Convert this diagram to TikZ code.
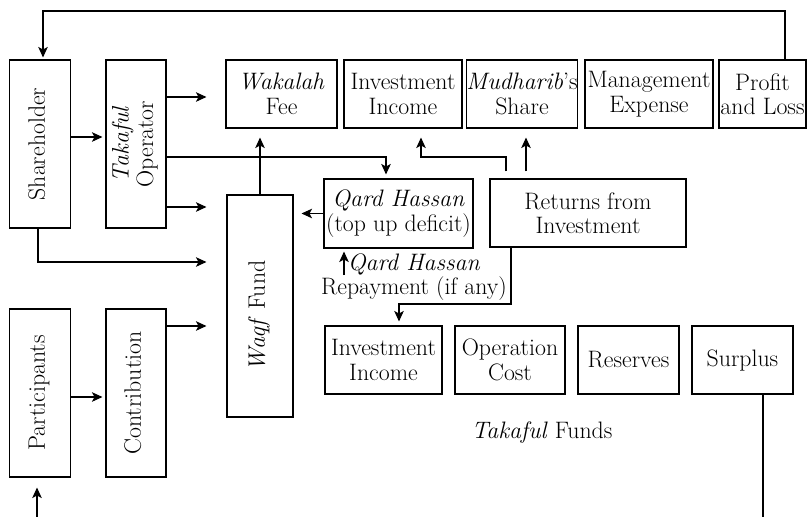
\documentclass[tikz,border=0pt]{standalone}
\usepackage{graphicx}
\usetikzlibrary{arrows.meta,calc}
\begin{document}
\begin{tikzpicture}[x=1pt,y=-1pt,
  lw/.style={line width=1.05pt},
  box/.style={draw, lw, inner sep=0pt, align=center, font=\fontsize{23.8}{24.5}\selectfont},
  txt/.style={inner sep=0pt, align=center, font=\fontsize{23.8}{24.5}\selectfont},
  arr/.style={lw, -{Stealth[length=10.5pt,width=9.5pt,inset=2.5pt]}},
  ln/.style={lw}]
\useasboundingbox (0,0) rectangle (807,517);
\newcommand\vtext[1]{\rotatebox{90}{\renewcommand\arraystretch{1}\begin{tabular}{@{}c@{}}#1\end{tabular}}}
% left column
\node[box, minimum width=60.5pt, minimum height=168pt] (sh) at (40,144) {\vtext{Shareholder}};
\node[box, minimum width=60pt, minimum height=168pt] (op) at (136,144) {\vtext{\textit{Takaful}\\Operator}};
\node[box, minimum width=60.5pt, minimum height=168pt] (part) at (40,393) {\vtext{Participants}};
\node[box, minimum width=60pt, minimum height=168pt] (con) at (136,393) {\vtext{Contribution}};
\node[box, minimum width=66pt, minimum height=222pt] (waqf) at (260,306) {\vtext{\textit{Waqf} Fund\hspace*{20pt}}};
% top row
\node[box, minimum width=111pt, minimum height=68pt] (wak) at (281.5,94) {\textit{Wakalah}\\Fee};
\node[box, minimum width=118pt, minimum height=68pt] (inv1) at (403,94) {Investment\\Income};
\node[box, minimum width=110pt, minimum height=68pt] (mud) at (522,94) {\textit{Mudharib}'s\\Share};
\node[box, minimum width=128pt, minimum height=68pt] (mgt) at (649,94) {Management\\Expense};
\node[box, minimum width=87pt, minimum height=68pt] (pl) at (762.5,94) {Profit\\and Loss};
% middle
\node[box, minimum width=149pt, minimum height=69pt] (qh) at (398.5,213.5) {\textit{Qard Hassan}\\(top up deficit)};
\node[box, minimum width=196pt, minimum height=68pt] (ret) at (588,213) {Returns from\\Investment};
\node[txt] (rep) at (414,277) {\textit{Qard Hassan}\\Repayment (if any)};
% bottom row
\node[box, minimum width=117pt, minimum height=68pt] (inv2) at (383.5,360) {Investment\\Income};
\node[box, minimum width=110pt, minimum height=68pt] (opc) at (510,360) {Operation\\Cost};
\node[box, minimum width=101pt, minimum height=68pt] (res) at (628.5,360) {Reserves};
\node[box, minimum width=101pt, minimum height=68pt] (sur) at (742.5,360) {Surplus};
\node[txt] (tf) at (542,433) {\textit{Takaful} Funds};
% free ends
\coordinate (pin) at (37,517);
\coordinate (sout) at (763,517);
\coordinate (repa) at (344,275);
% connectors
\draw[arr, shorten >=2pt] (pl.north -| 785,0) |- (43,11) -- (sh.north -| 43,0);
\draw[arr, shorten >=3pt] (sh.east |- 0,137) -- (op.west |- 0,137);
\draw[arr, shorten >=19pt] (op.east |- 0,97) -- (wak.west |- 0,97);
\draw[arr, shorten >=20pt] (op.east |- 0,207) -- (waqf.west |- 0,207);
\draw[arr, shorten >=4pt] (op.east |- 0,157) -| (qh.north -| 386,0);
\draw[arr, shorten >=9pt] (waqf.north) -- (waqf.north |- wak.south);
\draw[arr, shorten >=8pt] (qh.west) -- (waqf.east |- qh.west);
\draw[arr, shorten >=20pt] (sh.south -| 38,0) |- (waqf.west |- 0,262);
\draw[arr, shorten >=20pt] (con.east |- 0,326) -- (waqf.west |- 0,326);
\draw[arr, shorten >=3pt] (part.east |- 0,397) -- (con.west |- 0,397);
\draw[arr, shorten >=10pt] (pin) -- (pin |- part.south);
\draw[arr, shorten <=7pt, shorten >=9pt] (ret.north -| 506,0) |- (421,157) -- (inv1.south -| 421,0);
\draw[arr, shorten <=7pt, shorten >=9pt] (ret.north -| 526,0) -- (mud.south -| 526,0);
\draw[arr, shorten >=4pt] (ret.south -| 511,0) |- (399,304) -- (inv2.north -| 399,0);
\draw[arr, shorten >=3pt] (repa) -- (qh.south -| repa);
\draw[ln] (sur.south -| sout) -- (sout);
\end{tikzpicture}
\end{document}
